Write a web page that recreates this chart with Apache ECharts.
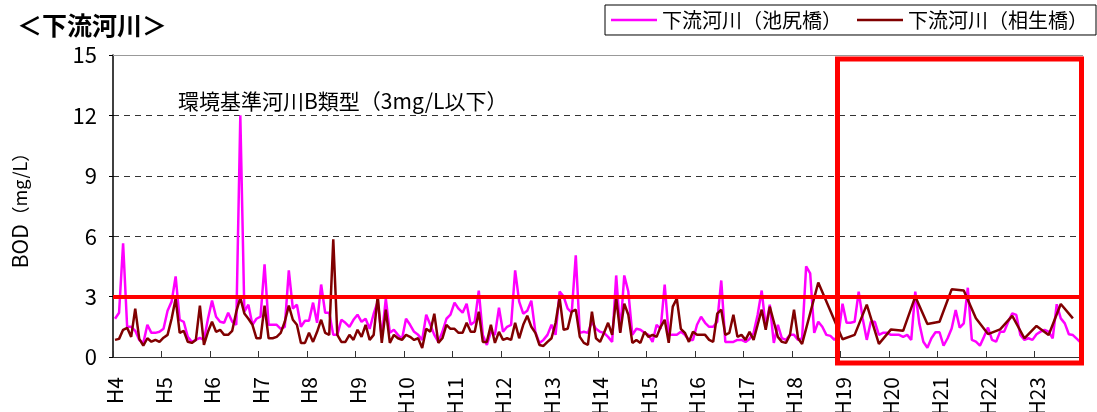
<!DOCTYPE html>
<html><head><meta charset="utf-8">
<script src="https://cdn.jsdelivr.net/npm/echarts@6/dist/echarts.min.js"></script>
<style>html,body{margin:0;padding:0;background:#fff}#c{width:1097px;height:412px}</style>
</head><body><div id="c"></div>
<script>
// fiscal years (tick labels) and months within each fiscal year
const years = ['H4','H5','H6','H7','H8','H9','H10','H11','H12','H13','H14','H15','H16','H17','H18','H19','H20','H21','H22','H23'];
const months = ['4','5','6','7','8','9','10','11','12','1','2','3'];
const yMin = 0, yMax = 15, yStep = 3;
const standardValue = 3;
const highlightFrom = 'H19';

// 下流河川(池尻橋) BOD mg/L, monthly H4.4 - H24.3
const ikejiri = [
  1.9, 2.2, 5.65, 1.5, 1.5, 1.3, 0.85, 0.7, 1.6, 1.2, 1.2, 1.25,
  1.4, 2.3, 2.75, 4.0, 1.85, 1.75, 1.0, 0.75, 0.85, 0.95, 0.85, 1.9,
  2.8, 2.0, 1.75, 1.7, 2.2, 1.75, 1.6, 12.0, 2.25, 2.6, 1.6, 1.9,
  2.0, 4.6, 1.6, 1.6, 1.6, 1.4, 1.5, 4.3, 2.4, 2.6, 1.5, 1.8,
  1.8, 2.7, 1.7, 3.6, 2.2, 2.2, 1.1, 1.1, 1.85, 1.7, 1.5, 1.85,
  2.1, 1.75, 1.9, 1.4, 2.15, 2.75, 1.0, 2.9, 1.2, 1.35, 1.1, 0.9,
  1.9, 1.6, 1.25, 1.1, 0.85, 2.1, 1.6, 1.1, 0.75, 1.25, 1.9, 2.1,
  2.7, 2.4, 2.2, 2.65, 1.6, 1.75, 3.3, 1.1, 0.6, 1.25, 1.1, 2.45,
  1.25, 1.5, 1.6, 4.3, 2.75, 2.15, 2.3, 2.8, 1.25, 0.7, 0.85, 1.1,
  1.6, 1.1, 3.25, 3.0, 2.4, 2.2, 5.05, 1.2, 1.25, 1.2, 1.75, 1.4,
  1.25, 1.2, 1.0, 0.75, 4.05, 1.25, 4.05, 3.25, 1.1, 1.4, 1.35, 1.2,
  1.1, 0.75, 1.6, 1.4, 3.6, 1.1, 1.1, 1.1, 1.25, 1.1, 0.85, 0.85,
  1.6, 2.0, 1.7, 1.5, 1.5, 1.75, 3.8, 0.75, 0.75, 0.75, 0.85, 0.85,
  0.75, 0.9, 1.2, 2.1, 3.3, 1.5, 2.6, 0.7, 1.6, 0.93, 0.85, 1.1,
  1.1, 0.85, 0.93, 4.5, 4.15, 1.2, 1.75, 1.5, 1.1, 1.05, 0.85, 1.1,
  2.65, 1.7, 1.7, 1.75, 3.25, 1.9, 0.85, 1.75, 1.75, 1.1, 1.2, 1.2,
  1.1, 1.1, 1.1, 1.0, 1.1, 0.85, 3.25, 1.67, 0.76, 0.46, 0.93, 1.23,
  1.23, 0.56, 0.93, 1.42, 2.33, 1.46, 1.67, 3.44, 0.85, 0.76, 0.56, 1.0,
  1.46, 0.85, 0.76, 1.26, 1.26, 1.75, 2.17, 2.09, 1.09, 0.85, 0.93, 0.85,
  1.13, 1.26, 1.34, 1.26, 0.93, 2.62, 1.92, 1.67, 1.13, 1.09, 0.9, 0.7
];

// 下流河川(相生橋) BOD mg/L, monthly until H18, quarterly afterwards
const aioi = [
  0.85, 0.9, 1.35, 1.45, 1.0, 2.4, 0.9, 0.56, 0.93, 0.76, 0.85, 0.75,
  0.96, 1.1, 1.9, 2.9, 1.2, 1.3, 0.76, 0.7, 0.85, 2.55, 0.6, 1.25,
  1.75, 1.25, 1.35, 1.1, 1.1, 1.3, 2.25, 2.95, 2.16, 1.9, 1.6, 0.93,
  0.93, 2.55, 0.93, 0.93, 1.0, 1.2, 1.75, 2.55, 1.85, 1.6, 0.7, 0.7,
  1.2, 0.75, 1.25, 1.85, 1.2, 1.1, 5.85, 1.1, 0.75, 0.75, 1.1, 0.85,
  1.35, 1.0, 1.6, 0.85, 1.1, 3.05, 0.7, 2.35, 0.7, 1.1, 0.93, 0.85,
  1.1, 1.0, 0.85, 0.93, 0.45, 1.4, 1.25, 2.15, 0.7, 0.93, 1.6, 1.4,
  1.4, 1.2, 1.2, 1.7, 1.25, 1.25, 2.25, 0.75, 0.75, 1.6, 0.7, 1.25,
  0.85, 0.93, 0.85, 1.7, 0.93, 1.6, 2.05, 1.5, 1.2, 0.6, 0.55, 0.75,
  0.93, 1.7, 2.95, 1.35, 1.4, 2.25, 2.35, 1.0, 0.7, 0.6, 2.25, 0.93,
  0.75, 1.2, 1.7, 1.1, 2.95, 1.2, 2.65, 2.1, 0.7, 0.85, 0.7, 1.25,
  1.0, 1.1, 1.0, 1.5, 1.85, 0.7, 2.5, 2.9, 1.4, 1.2, 0.75, 1.25,
  1.1, 1.1, 1.1, 0.85, 0.75, 2.15, 2.35, 1.1, 1.2, 2.1, 1.0, 1.1,
  0.85, 1.25, 0.85, 1.6, 2.35, 1.35, 2.5, 1.75, 1.0, 0.75, 0.7, 1.1,
  2.35, 0.93, 0.65, null, null, null, 3.7, null, null, null, null, null,
  0.88, null, null, 1.1, null, null, 2.6, null, null, 0.65, null, null,
  1.37, null, null, 1.3, null, null, 3.0, null, null, 1.64, null, null,
  1.75, null, null, 3.36, null, null, 3.3, null, null, 1.92, null, null,
  1.14, null, null, 1.37, null, null, 2.04, null, null, 0.93, null, null,
  1.54, null, null, 1.09, null, null, 2.63, null, null, 1.92, null, null
];

const categories = [];
years.forEach(y => months.forEach(m => categories.push(y + '/' + m)));

const FONT = "'Noto Sans CJK JP', 'Noto Sans', sans-serif";
const chart = echarts.init(document.getElementById('c'), null, {renderer: 'canvas'});

const option = {
  animation: false,
  backgroundColor: '#fff',
  textStyle: {fontFamily: FONT, color: '#000'},
  title: [
    {text: '＜下流河川＞', left: 12, top: 8, textStyle: {fontFamily: FONT, fontSize: 25, fontWeight: 'bold', color: '#000'}},
    {text: '環境基準河川B類型（3mg/L以下）', left: 173, top: 86, textStyle: {fontFamily: FONT, fontSize: 21, fontWeight: 'normal', color: '#000'}}
  ],
  legend: {
    data: ['下流河川（池尻橋）', '下流河川（相生橋）'],
    right: 1, top: 5,
    padding: [5, 8, 5, 6],
    borderColor: '#000', borderWidth: 1,
    icon: 'rect',
    itemWidth: 46, itemHeight: 2.5, itemGap: 15,
    textStyle: {fontFamily: FONT, fontSize: 20, color: '#000'}
  },
  grid: {left: 113, right: 14, top: 55, bottom: 55, containLabel: false, outerBoundsMode: 'none'},
  xAxis: {
    type: 'category',
    data: categories,
    boundaryGap: true,
    axisLine: {lineStyle: {color: '#333', width: 1}},
    axisTick: {show: true, inside: true, length: 6, interval: 11, lineStyle: {color: '#333'}},
    axisLabel: {
      interval: 11, rotate: 90, margin: 20,
      fontFamily: FONT, fontSize: 21, color: '#000',
      formatter: v => v.split('/')[0]
    },
    splitLine: {show: false}
  },
  yAxis: {
    type: 'value', min: yMin, max: yMax, interval: yStep,
    name: '{a|BOD}{b|（mg/L）}',
    nameLocation: 'middle', nameRotate: 90, nameGap: 82,
    nameTextStyle: {
      rich: {
        a: {fontFamily: FONT, fontSize: 21, color: '#000'},
        b: {fontFamily: FONT, fontSize: 18, color: '#000'}
      }
    },
    axisLine: {show: true, lineStyle: {color: '#000', width: 1.5}},
    axisTick: {show: true, inside: false, length: 4, lineStyle: {color: '#000'}},
    axisLabel: {margin: 16, fontFamily: FONT, fontSize: 22, color: '#000'},
    splitLine: {show: true, lineStyle: {color: '#333', width: 1, type: [6, 5]}}
  },
  series: [
    {
      name: '下流河川（池尻橋）', type: 'line', data: ikejiri,
      symbol: 'none', color: '#FF00FF',
      lineStyle: {width: 2.5, color: '#FF00FF'}, z: 2
    },
    {
      name: '下流河川（相生橋）', type: 'line', data: aioi,
      symbol: 'none', connectNulls: true, color: '#800000',
      lineStyle: {width: 2.5, color: '#800000'}, z: 3,
      markLine: {
        silent: true, symbol: 'none', animation: false,
        label: {show: false},
        data: [
          {yAxis: standardValue, lineStyle: {color: '#FF0000', width: 4, type: 'solid'}},
          {yAxis: yMax, lineStyle: {color: '#999', width: 1.2, type: 'solid'}}
        ]
      }
    }
  ]
};
chart.setOption(option);

// highlight box around H19 onwards
const px = c => chart.convertToPixel({xAxisIndex: 0}, c);
const py = v => chart.convertToPixel({yAxisIndex: 0}, v);
const band = px(categories[1]) - px(categories[0]);
const startIdx = years.indexOf(highlightFrom) * months.length;
const xL = px(categories[startIdx]) - band / 2 - 3;
const xR = px(categories[categories.length - 1]) + band / 2 - 1.5;
const yT = py(yMax) + 4;
const yB = py(yMin) + 6;
chart.setOption({
  graphic: [{
    id: 'box', type: 'rect', z: 100,
    shape: {x: xL, y: yT, width: xR - xL, height: yB - yT},
    style: {fill: 'none', stroke: '#FF0000', lineWidth: 5}
  }]
});
</script></body></html>
